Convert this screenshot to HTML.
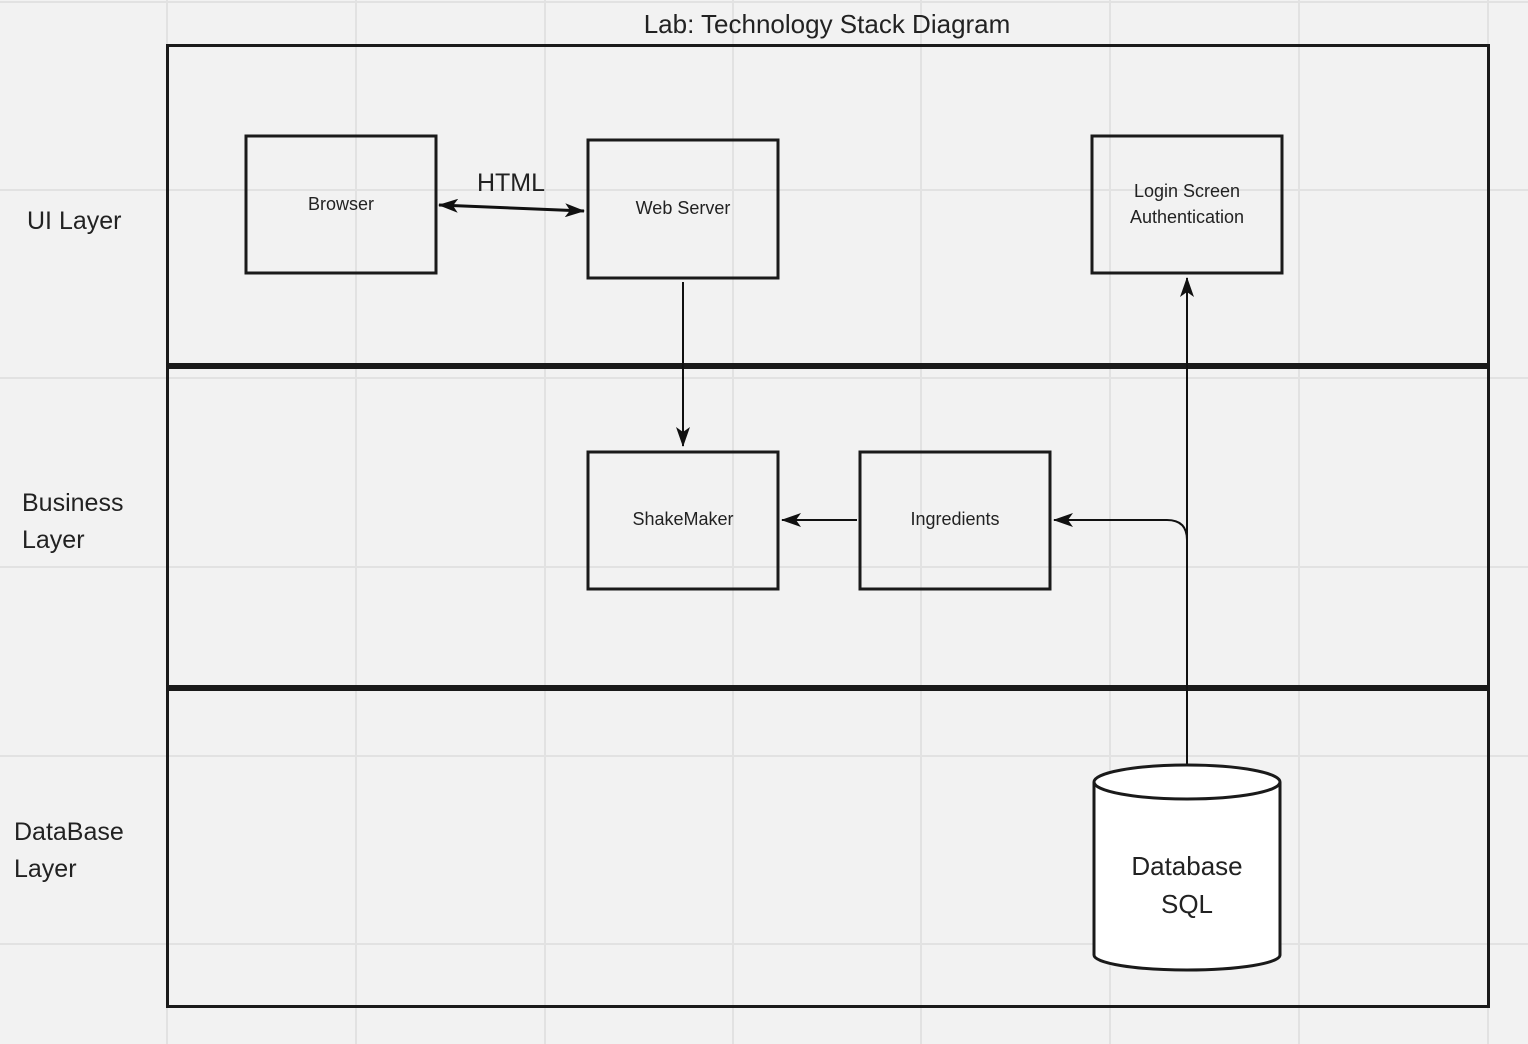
<!DOCTYPE html>
<html><head><meta charset="utf-8"><style>
html,body{margin:0;padding:0;background:#f2f2f2;}
svg{display:block;}
text{font-family:"Liberation Sans","DejaVu Sans",sans-serif;fill:#222;}
</style></head><body>
<svg width="1528" height="1044" viewBox="0 0 1528 1044" xmlns="http://www.w3.org/2000/svg">
<defs>
<marker id="ah" viewBox="0 0 10 10" refX="9" refY="5" markerWidth="10" markerHeight="10" markerUnits="userSpaceOnUse" orient="auto-start-reverse">
<path d="M0,0 L10,5 L0,10 L2,5 z" fill="#111"/>
</marker>
<marker id="ah2" viewBox="0 0 20 14" refX="19" refY="7" markerWidth="28" markerHeight="14" markerUnits="userSpaceOnUse" orient="auto-start-reverse">
<path d="M0,0 L20,7 L0,14 L5,7 z" fill="#111"/>
</marker>
</defs>
<rect width="1528" height="1044" fill="#f2f2f2"/>
<g stroke="#e2e2e2" stroke-width="2">
<line x1="167" y1="0" x2="167" y2="1044"/><line x1="356" y1="0" x2="356" y2="1044"/>
<line x1="545" y1="0" x2="545" y2="1044"/><line x1="733" y1="0" x2="733" y2="1044"/>
<line x1="921" y1="0" x2="921" y2="1044"/><line x1="1110" y1="0" x2="1110" y2="1044"/>
<line x1="1299" y1="0" x2="1299" y2="1044"/><line x1="1488" y1="0" x2="1488" y2="1044"/>
<line x1="0" y1="2" x2="1528" y2="2"/><line x1="0" y1="190" x2="1528" y2="190"/>
<line x1="0" y1="378" x2="1528" y2="378"/><line x1="0" y1="567" x2="1528" y2="567"/>
<line x1="0" y1="756" x2="1528" y2="756"/><line x1="0" y1="944" x2="1528" y2="944"/>
</g>
<text x="827" y="33" font-size="26" text-anchor="middle">Lab: Technology Stack Diagram</text>
<rect x="167.5" y="45.5" width="1321" height="961" fill="none" stroke="#1a1a1a" stroke-width="3"/>
<rect x="167" y="363" width="1322" height="6" fill="#1a1a1a"/>
<rect x="167" y="685" width="1322" height="6" fill="#1a1a1a"/>
<text x="27" y="229" font-size="25">UI Layer</text>
<text x="22" y="511" font-size="25">Business</text>
<text x="22" y="548" font-size="25">Layer</text>
<text x="14" y="840" font-size="25">DataBase</text>
<text x="14" y="877" font-size="25">Layer</text>
<g fill="none" stroke="#1a1a1a" stroke-width="3">
<rect x="246" y="136" width="190" height="137"/>
<rect x="588" y="140" width="190" height="138"/>
<rect x="1092" y="136" width="190" height="137"/>
<rect x="588" y="452" width="190" height="137"/>
<rect x="860" y="452" width="190" height="137"/>
</g>
<g font-size="18" text-anchor="middle">
<text x="341" y="210">Browser</text>
<text x="683" y="214">Web Server</text>
<text x="1187" y="197">Login Screen</text>
<text x="1187" y="223">Authentication</text>
<text x="683" y="525">ShakeMaker</text>
<text x="955" y="525">Ingredients</text>
</g>
<text x="511" y="191" font-size="25" text-anchor="middle">HTML</text>
<g stroke="#111" stroke-width="2" fill="none">
<line x1="439" y1="205" x2="584" y2="211" marker-start="url(#ah2)" marker-end="url(#ah2)" stroke-width="3"/>
<line x1="683" y1="282" x2="683" y2="446" marker-end="url(#ah2)"/>
<line x1="857" y1="520" x2="782" y2="520" marker-end="url(#ah2)"/>
<line x1="1187" y1="764" x2="1187" y2="278" marker-end="url(#ah2)"/>
<path d="M1187,540 Q1187,520 1167,520 L1054,520" marker-end="url(#ah2)"/>
</g>
<g stroke="#1a1a1a" stroke-width="3" fill="#fff">
<path d="M1094,782 L1094,955 A93,15 0 0 0 1280,955 L1280,782"/>
<ellipse cx="1187" cy="782" rx="93" ry="17"/>
</g>
<text x="1187" y="875" font-size="26" text-anchor="middle">Database</text>
<text x="1187" y="913" font-size="26" text-anchor="middle">SQL</text>
</svg>
</body></html>
